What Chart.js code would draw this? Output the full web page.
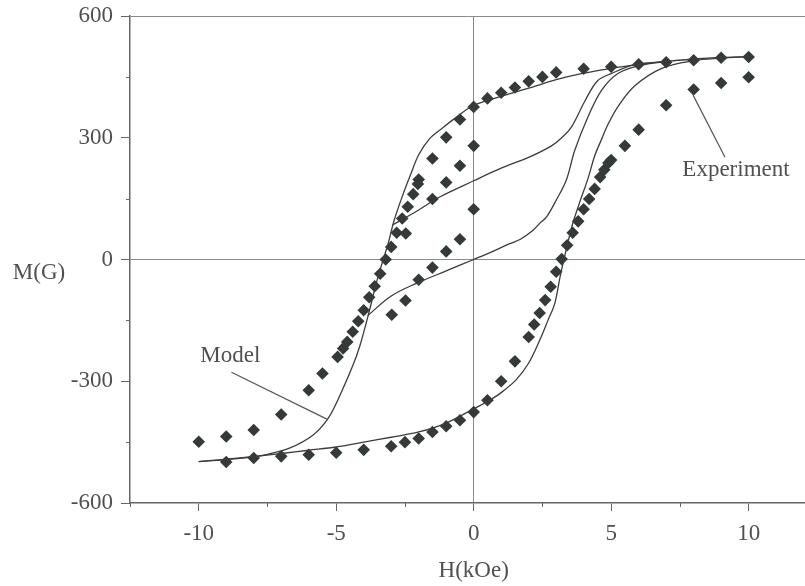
<!DOCTYPE html>
<html>
<head>
<meta charset="utf-8">
<script src="https://cdn.jsdelivr.net/npm/chart.js@4.4.0/dist/chart.umd.min.js"></script>
<style>
  html, body { margin: 0; padding: 0; background: #fff; }
</style>
</head>
<body>
<canvas id="grafico" width="805" height="586"></canvas>
<script>
// Ticks de los ejes
const xTicks = [-10, -5, 0, 5, 10];
const yTicks = [-600, -300, 0, 300, 600];
const xMinorTicks = [-12.5, -7.5, -2.5, 2.5, 7.5];
const yMinorTicks = [-450, -150, 150, 450];

// Experimento: rama descendente
const expDownH = [10, 9, 8, 7, 6, 5, 4, 3, 2.5, 2, 1.5, 1, 0.5, 0, -0.5, -1, -1.5, -2, -2.03, -2.2, -2.4, -2.6, -2.8, -3, -3.2, -3.4, -3.6, -3.8, -4, -4.2, -4.4, -4.6, -4.75, -4.95, -5.5, -6, -7, -8, -9, -10];
const expDownM = [499, 497, 491, 486, 481, 475, 470, 461, 450, 439, 424, 411, 397, 376, 345, 301, 249, 197, 186, 161, 130, 101, 66, 31, 0, -35, -66, -93, -125, -152, -178, -203, -219, -240, -281, -322, -382, -420, -436, -449];

// Experimento: rama ascendente
const expUpH = [-9, -8, -7, -6, -5, -4, -3, -2.5, -2, -1.5, -1, -0.5, 0, 0.5, 1, 1.5, 2, 2.2, 2.4, 2.6, 2.8, 3, 3.2, 3.4, 3.6, 3.8, 4, 4.2, 4.4, 4.6, 4.75, 4.9, 5, 5.5, 6, 7, 8, 9, 10];
const expUpM = [-499, -489, -485, -481, -476, -469, -460, -450, -441, -425, -411, -396, -376, -347, -300, -251, -191, -160, -132, -100, -67, -30, 1, 35, 66, 94, 124, 149, 174, 203, 221, 238, 245, 280, 320, 380, 419, 435, 449];

// Experimento: lazos menores
const expMinor1H = [0, -0.5, -1, -1.5, -2.47];
const expMinor1M = [280, 231, 190, 149, 64];
const expMinor2H = [0, -0.5, -1, -1.5, -2, -2.48, -2.98];
const expMinor2M = [124, 50, 20, -20, -50, -101, -136];

// Modelo: lazo mayor descendente
const modelDownH = [10, 9, 8, 7, 6, 5, 4, 3, 2, 1, 0, -0.6, -1.1, -1.6, -2, -2.3, -2.6, -2.9, -3.1, -3.3, -3.55, -3.8, -4.15, -4.4, -4.9, -5.3, -5.85, -6.7, -7.5, -8.5, -10];
const modelDownM = [500, 498, 494, 488, 481, 471, 459, 443, 422, 402, 380, 352, 326, 298, 258, 208, 155, 95, 42, -2, -60, -128, -215, -262, -340, -392, -433, -465, -480, -490, -498];

// Modelo: lazo mayor ascendente
const modelUpH = [-10, -8.5, -7, -6, -5, -4, -3, -2, -1, 0, 0.5, 1, 1.55, 2, 2.4, 2.7, 2.95, 3.15, 3.35, 3.6, 3.85, 4.16, 4.4, 4.65, 4.9, 5.26, 5.86, 6.84, 8, 9, 10];
const modelUpM = [-498, -489, -478, -470, -462, -450, -438, -425, -403, -368, -350, -328, -296, -255, -199, -150, -108, -40, 20, 88, 140, 200, 255, 296, 335, 378, 428, 471, 490, 496, 500];

// Modelo: curvas de retorno
const modelC_H = [-3.85, -3, -2.09, -1, 0, 0.7, 1.31, 1.7, 2.16, 2.4, 2.65, 3, 3.37, 3.68, 4.16, 4.65, 5.26, 6.1, 7];
const modelC_M = [-138, -90, -59, -28, 0, 20, 39, 50, 72, 89, 105, 146, 196, 270, 352, 417, 459, 479, 488];
const modelD_H = [-2.95, -2, -1.24, 0, 1, 2.04, 2.83, 3.2, 3.56, 4.04, 4.5, 5, 5.86, 7];
const modelD_M = [85, 122, 154, 194, 225, 253, 280, 300, 327, 390, 440, 458, 480, 488];

// Convierte dos listas en puntos {x, y}
const toPts = (xs, ys) => xs.map((x, i) => ({ x: x, y: ys[i] }));

const fuente = '"Liberation Serif", "Times New Roman", serif';
const colorTexto = '#505050';
const colorDiamante = '#343a36';
const colorLinea = '#3c3c3c';

function experimento(xs, ys) {
  return {
    data: toPts(xs, ys),
    showLine: false,
    pointStyle: 'rectRot',
    pointRadius: 6.3,
    backgroundColor: colorDiamante,
    borderColor: colorDiamante,
    borderWidth: 0
  };
}

function modelo(xs, ys) {
  return {
    data: toPts(xs, ys),
    showLine: true,
    pointRadius: 0,
    borderColor: colorLinea,
    borderWidth: 1.3,
    tension: 0.35,
    fill: false
  };
}

// Plugin para ticks menores, etiquetas y textos de anotación
const notas = {
  id: 'notas',
  afterDraw(chart) {
    const { ctx, chartArea } = chart;
    const x = chart.scales.x, y = chart.scales.y;
    ctx.save();
    ctx.strokeStyle = '#666';
    ctx.lineWidth = 1;
    xMinorTicks.forEach(v => {
      const px = Math.round(x.getPixelForValue(v)) + 0.5;
      ctx.beginPath();
      ctx.moveTo(px, chartArea.bottom);
      ctx.lineTo(px, chartArea.bottom + 4);
      ctx.stroke();
    });
    yMinorTicks.forEach(v => {
      const py = Math.round(y.getPixelForValue(v)) + 0.5;
      ctx.beginPath();
      ctx.moveTo(chartArea.left - 4, py);
      ctx.lineTo(chartArea.left, py);
      ctx.stroke();
    });

    // Líneas guía de las etiquetas
    ctx.strokeStyle = '#555';
    ctx.lineWidth = 1.2;
    ctx.beginPath();
    ctx.moveTo(x.getPixelForValue(-8.81), y.getPixelForValue(-278));
    ctx.lineTo(x.getPixelForValue(-5.32), y.getPixelForValue(-394));
    ctx.moveTo(x.getPixelForValue(7.98), y.getPixelForValue(405));
    ctx.lineTo(x.getPixelForValue(9.14), y.getPixelForValue(252));
    ctx.stroke();

    ctx.fillStyle = colorTexto;
    ctx.font = '23px ' + fuente;
    ctx.textAlign = 'center';
    ctx.textBaseline = 'middle';
    ctx.fillText('Model', x.getPixelForValue(-8.85), y.getPixelForValue(-238));
    ctx.fillText('Experiment', x.getPixelForValue(9.54), y.getPixelForValue(220));
    ctx.fillText('H(kOe)', x.getPixelForValue(0), 571);
    ctx.fillText('M(G)', 39, y.getPixelForValue(0) + 13);
    ctx.restore();
  }
};

// Quita el margen que Chart.js reserva para las etiquetas extremas
function sinMargen(s) {
  s.paddingLeft = 0;
  s.paddingRight = 0;
  s.paddingTop = 0;
  s.paddingBottom = 0;
}

const ctx = document.getElementById('grafico').getContext('2d');

new Chart(ctx, {
  type: 'scatter',
  data: {
    datasets: [
      modelo(modelDownH, modelDownM),
      modelo(modelUpH, modelUpM),
      modelo(modelC_H, modelC_M),
      modelo(modelD_H, modelD_M),
      experimento(expDownH, expDownM),
      experimento(expUpH, expUpM),
      experimento(expMinor1H, expMinor1M),
      experimento(expMinor2H, expMinor2M)
    ]
  },
  options: {
    responsive: false,
    animation: false,
    devicePixelRatio: 1,
    layout: { autoPadding: false, padding: { top: 16, right: 0, bottom: 0, left: 0 } },
    plugins: {
      legend: { display: false },
      tooltip: { enabled: false }
    },
    scales: {
      x: {
        type: 'linear',
        min: -12.5,
        max: 12.05,
        afterBuildTicks: s => { s.ticks = xTicks.map(v => ({ value: v })); },
        afterFit: s => { s.height = 83; sinMargen(s); },
        grid: {
          color: c => (c.tick && c.tick.value === 0) ? '#8a8a8a' : 'rgba(0,0,0,0)',
          lineWidth: 1,
          drawTicks: true,
          tickLength: 8,
          tickColor: '#666'
        },
        border: { display: true, color: '#666', width: 1.5 },
        ticks: {
          color: colorTexto,
          font: { family: fuente, size: 23 },
          padding: 9,
          maxRotation: 0,
          autoSkip: false,
          callback: v => String(v)
        }
      },
      y: {
        type: 'linear',
        min: -600,
        max: 600,
        afterBuildTicks: s => { s.ticks = yTicks.map(v => ({ value: v })); },
        afterFit: s => { s.width = 130; sinMargen(s); },
        grid: {
          color: c => (c.tick && (c.tick.value === 0 || c.tick.value === 600)) ? '#8a8a8a' : 'rgba(0,0,0,0)',
          lineWidth: 1,
          drawTicks: true,
          tickLength: 9,
          tickColor: '#666'
        },
        border: { display: true, color: '#666', width: 1.5 },
        ticks: {
          color: colorTexto,
          font: { family: fuente, size: 23 },
          padding: 8,
          autoSkip: false,
          callback: v => String(v)
        }
      }
    }
  },
  plugins: [notas]
});
</script>
</body>
</html>
